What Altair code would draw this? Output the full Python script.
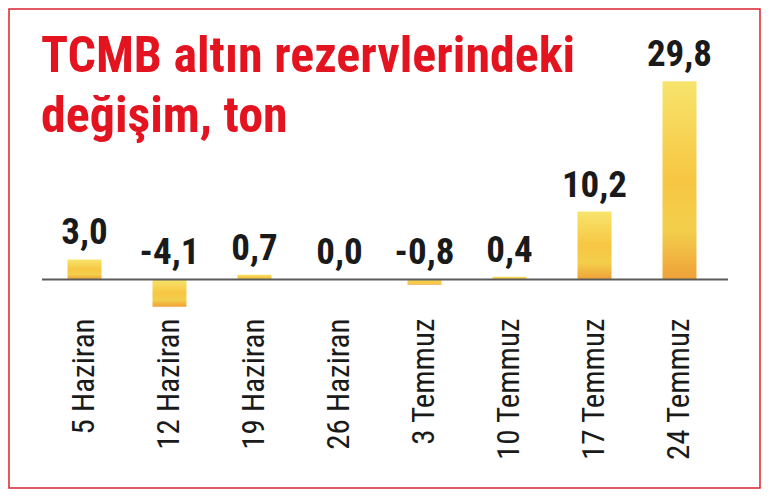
import altair as alt
import pandas as pd

dates = ["5 Haziran", "12 Haziran", "19 Haziran", "26 Haziran",
         "3 Temmuz", "10 Temmuz", "17 Temmuz", "24 Temmuz"]
values = [3.0, -4.1, 0.7, 0.0, -0.8, 0.4, 10.2, 29.8]
labels = ["3,0", "-4,1", "0,7", "0,0", "-0,8", "0,4", "10,2", "29,8"]

title_lines = ["TCMB altın rezervlerindeki", "değişim, ton"]

df = pd.DataFrame({"date": dates, "value": values, "label": labels})

FONT = "Roboto Condensed, Liberation Sans Narrow, Roboto, sans-serif"
RED = "#e3141f"

xenc = alt.X("date:N", sort=dates, title=None,
             scale=alt.Scale(paddingInner=0.6, paddingOuter=0.3),
             axis=alt.Axis(labelAngle=270, labelFontSize=31, labelFont=FONT,
                           labelColor="#1a1a1a", ticks=False, domain=False,
                           labelPadding=8, labelLimit=300))
yscale = alt.Scale(domain=[-4.6, 31.8], nice=False, zero=False)

base = alt.Chart(df)

bars = base.mark_bar(
    color=alt.LinearGradient(
        gradient="linear", x1=0, x2=0, y1=0, y2=1,
        stops=[alt.GradientStop(color="#f7e46c", offset=0),
               alt.GradientStop(color="#f7c642", offset=0.5),
               alt.GradientStop(color="#f3cf4c", offset=0.75),
               alt.GradientStop(color="#eea137", offset=1)]
    )
).encode(
    x=xenc,
    y=alt.Y("value:Q", scale=yscale, axis=None),
    y2=alt.datum(0),
)

zero = alt.Chart(pd.DataFrame({"z": [0]})).mark_rule(
    color="#5a5a5a", strokeWidth=2
).encode(
    y=alt.Y("z:Q", scale=yscale, axis=None),
    x=alt.value(0), x2=alt.value(686),
)

text = base.transform_calculate(
    ypos="max(datum.value, 0)"
).mark_text(
    font=FONT, fontSize=37, fontWeight="bold", color="#1a1a1a",
    baseline="alphabetic", dy=-15
).encode(
    x=alt.X("date:N", sort=dates),
    y=alt.Y("ypos:Q", scale=yscale, axis=None),
    text="label:N",
)

border = alt.Chart(alt.Data(values=[{}])).mark_rect(
    filled=False, stroke="#d9232e", strokeWidth=1.5
).encode(
    x=alt.value(-33), x2=alt.value(718),
    y=alt.value(-59), y2=alt.value(420),
)

chart = alt.layer(bars, zero, text, border).properties(
    width=680, height=242,
    padding={"left": 34, "right": 40, "top": 60, "bottom": 179},
    autosize=alt.AutoSizeParams(type="none"),
    title=alt.TitleParams(
        text=title_lines, anchor="start", frame="group", font=FONT,
        fontSize=50, fontWeight="bold", color=RED, lineHeight=60,
        offset=-134, dx=-1,
    ),
).configure_view(stroke=None)

chart.save("out.html", embed_options={"renderer": "svg", "actions": False})
